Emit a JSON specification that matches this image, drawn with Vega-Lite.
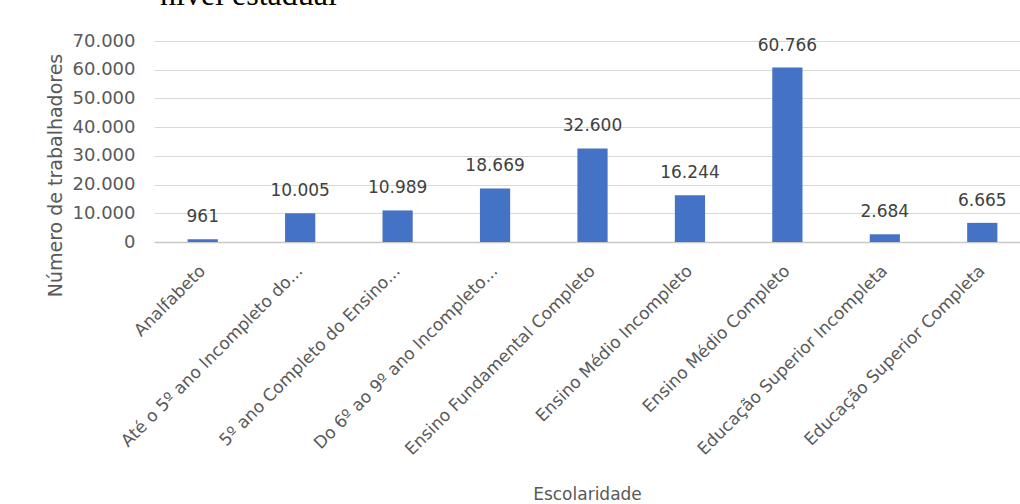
{
  "$schema": "https://vega.github.io/schema/vega-lite/v6.json",
  "width": 866,
  "height": 201,
  "autosize": {"type": "none"},
  "padding": {"left": 154, "top": 41, "right": 0, "bottom": 262},
  "background": "white",
  "title": {
    "text": "nível estadual",
    "anchor": "start",
    "frame": "group",
    "orient": "top",
    "offset": -5,
    "baseline": "alphabetic",
    "font": "Liberation Serif",
    "fontSize": 32,
    "fontWeight": "normal",
    "color": "#000000",
    "dx": 6
  },
  "data": {
    "values": [
      {"escolaridade": "Analfabeto", "trabalhadores": 961},
      {"escolaridade": "Até o 5º ano Incompleto do...", "trabalhadores": 10005},
      {"escolaridade": "5º ano Completo do Ensino...", "trabalhadores": 10989},
      {"escolaridade": "Do 6º ao 9º ano Incompleto...", "trabalhadores": 18669},
      {"escolaridade": "Ensino Fundamental Completo", "trabalhadores": 32600},
      {"escolaridade": "Ensino Médio Incompleto", "trabalhadores": 16244},
      {"escolaridade": "Ensino Médio Completo", "trabalhadores": 60766},
      {"escolaridade": "Educação Superior Incompleta", "trabalhadores": 2684},
      {"escolaridade": "Educação Superior Completa", "trabalhadores": 6665}
    ]
  },
  "encoding": {
    "x": {
      "field": "escolaridade",
      "type": "nominal",
      "sort": null,
      "title": "Escolaridade",
      "scale": {"range": [0, 877], "paddingInner": 0.69, "paddingOuter": 0.345},
      "axis": {
        "labelAngle": -45,
        "labelAlign": "right",
        "labelBaseline": "middle",
        "labelPadding": 26,
        "labelFont": "DejaVu Sans",
        "labelFontSize": 17,
        "labelColor": "#595959",
        "labelLimit": 400,
        "ticks": false,
        "domainColor": "#c8c8c8",
        "domainWidth": 1.5,
        "titleFont": "DejaVu Sans",
        "titleFontSize": 17,
        "titleFontWeight": "normal",
        "titleColor": "#595959",
        "titleX": 433,
        "titleY": 257,
        "titleBaseline": "alphabetic",
        "titleAnchor": "middle"
      }
    },
    "y": {
      "field": "trabalhadores",
      "type": "quantitative",
      "title": "Número de trabalhadores",
      "scale": {"domain": [0, 70000], "nice": false},
      "axis": {
        "values": [0, 10000, 20000, 30000, 40000, 50000, 60000, 70000],
        "format": ",d",
        "domain": false,
        "ticks": false,
        "labelPadding": 19,
        "labelFont": "DejaVu Sans",
        "labelFontSize": 18,
        "labelColor": "#595959",
        "gridColor": "#d9d9d9",
        "gridWidth": 1,
        "titleFont": "DejaVu Sans",
        "titleFontSize": 19,
        "titleFontWeight": "normal",
        "titleColor": "#595959",
        "titleX": -99,
        "titleY": 134,
        "titleAngle": -90,
        "titleAlign": "center",
        "titleBaseline": "middle"
      }
    }
  },
  "layer": [
    {"mark": {"type": "bar", "color": "#4472C4"}},
    {
      "mark": {
        "type": "text",
        "baseline": "alphabetic",
        "dy": -17,
        "font": "DejaVu Sans",
        "fontSize": 17,
        "color": "#404040"
      },
      "encoding": {
        "text": {"field": "trabalhadores", "type": "quantitative", "format": ",d"}
      }
    }
  ],
  "config": {
    "locale": {
      "number": {"decimal": ",", "thousands": ".", "grouping": [3], "currency": ["R$", ""]}
    },
    "view": {"stroke": null}
  }
}
